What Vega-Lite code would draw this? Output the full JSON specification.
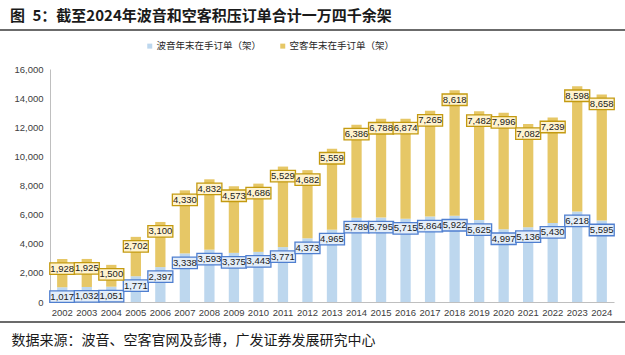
{
  "$schema": "https://vega.github.io/schema/vega-lite/v6.json",
  "width": 625,
  "height": 355,
  "autosize": {"type": "none"},
  "padding": 0,
  "background": "white",
  "config": {
    "view": {"stroke": null},
    "font": "Noto Sans CJK SC"
  },
  "title": {
    "text": "图\u20025：截至2024年波音和空客积压订单合计一万四千余架",
    "anchor": "start",
    "frame": "group",
    "orient": "top",
    "offset": 0,
    "dx": 10,
    "dy": 24,
    "fontSize": 15,
    "fontWeight": "bold",
    "font": "Noto Sans CJK SC",
    "color": "#1a1a1a"
  },
  "data": {
    "values": [
      {"year": "2002", "series": "波音年末在手订单（架）", "value": 1017},
      {"year": "2003", "series": "波音年末在手订单（架）", "value": 1032},
      {"year": "2004", "series": "波音年末在手订单（架）", "value": 1051},
      {"year": "2005", "series": "波音年末在手订单（架）", "value": 1771},
      {"year": "2006", "series": "波音年末在手订单（架）", "value": 2397},
      {"year": "2007", "series": "波音年末在手订单（架）", "value": 3338},
      {"year": "2008", "series": "波音年末在手订单（架）", "value": 3593},
      {"year": "2009", "series": "波音年末在手订单（架）", "value": 3375},
      {"year": "2010", "series": "波音年末在手订单（架）", "value": 3443},
      {"year": "2011", "series": "波音年末在手订单（架）", "value": 3771},
      {"year": "2012", "series": "波音年末在手订单（架）", "value": 4373},
      {"year": "2013", "series": "波音年末在手订单（架）", "value": 4965},
      {"year": "2014", "series": "波音年末在手订单（架）", "value": 5789},
      {"year": "2015", "series": "波音年末在手订单（架）", "value": 5795},
      {"year": "2016", "series": "波音年末在手订单（架）", "value": 5715},
      {"year": "2017", "series": "波音年末在手订单（架）", "value": 5864},
      {"year": "2018", "series": "波音年末在手订单（架）", "value": 5922},
      {"year": "2019", "series": "波音年末在手订单（架）", "value": 5625},
      {"year": "2020", "series": "波音年末在手订单（架）", "value": 4997},
      {"year": "2021", "series": "波音年末在手订单（架）", "value": 5136},
      {"year": "2022", "series": "波音年末在手订单（架）", "value": 5430},
      {"year": "2023", "series": "波音年末在手订单（架）", "value": 6218},
      {"year": "2024", "series": "波音年末在手订单（架）", "value": 5595},
      {"year": "2002", "series": "空客年末在手订单（架）", "value": 1928},
      {"year": "2003", "series": "空客年末在手订单（架）", "value": 1925},
      {"year": "2004", "series": "空客年末在手订单（架）", "value": 1500},
      {"year": "2005", "series": "空客年末在手订单（架）", "value": 2702},
      {"year": "2006", "series": "空客年末在手订单（架）", "value": 3100},
      {"year": "2007", "series": "空客年末在手订单（架）", "value": 4330},
      {"year": "2008", "series": "空客年末在手订单（架）", "value": 4832},
      {"year": "2009", "series": "空客年末在手订单（架）", "value": 4573},
      {"year": "2010", "series": "空客年末在手订单（架）", "value": 4686},
      {"year": "2011", "series": "空客年末在手订单（架）", "value": 5529},
      {"year": "2012", "series": "空客年末在手订单（架）", "value": 4682},
      {"year": "2013", "series": "空客年末在手订单（架）", "value": 5559},
      {"year": "2014", "series": "空客年末在手订单（架）", "value": 6386},
      {"year": "2015", "series": "空客年末在手订单（架）", "value": 6788},
      {"year": "2016", "series": "空客年末在手订单（架）", "value": 6874},
      {"year": "2017", "series": "空客年末在手订单（架）", "value": 7265},
      {"year": "2018", "series": "空客年末在手订单（架）", "value": 8618},
      {"year": "2019", "series": "空客年末在手订单（架）", "value": 7482},
      {"year": "2020", "series": "空客年末在手订单（架）", "value": 7996},
      {"year": "2021", "series": "空客年末在手订单（架）", "value": 7082},
      {"year": "2022", "series": "空客年末在手订单（架）", "value": 7239},
      {"year": "2023", "series": "空客年末在手订单（架）", "value": 8598},
      {"year": "2024", "series": "空客年末在手订单（架）", "value": 8658}
    ]
  },
  "transform": [
    {"stack": "value", "groupby": ["year"], "sort": [{"field": "series", "order": "ascending"}], "as": ["v0", "v1"]}
  ],
  "layer": [
    {
      "mark": {"type": "bar"},
      "encoding": {
        "x": {
          "field": "year",
          "type": "ordinal",
          "scale": {"range": [50, 614], "paddingInner": 0.58, "paddingOuter": 0.29},
          "axis": {
            "offset": -53,
            "labelAngle": 0,
            "labelFontSize": 9.5,
            "labelFont": "Liberation Sans",
            "labelColor": "#404040",
            "labelPadding": 5,
            "ticks": false,
            "domainColor": "#BFBFBF",
            "domainWidth": 1,
            "title": "数据来源：波音、空客官网及彭博，广发证券发展研究中心",
            "titleFont": "Noto Sans CJK SC",
            "titleFontSize": 14,
            "titleFontWeight": "normal",
            "titleColor": "#1a1a1a",
            "titleAnchor": "start",
            "titleAlign": "left",
            "titleBaseline": "middle",
            "titleX": 11,
            "titleY": 38
          }
        },
        "y": {
          "field": "v1",
          "type": "quantitative",
          "scale": {"domain": [0, 16000], "range": [302, 69], "nice": false, "zero": true},
          "axis": {
            "offset": -50,
            "values": [0, 2000, 4000, 6000, 8000, 10000, 12000, 14000, 16000],
            "labelExpr": "format(datum.value, ',')",
            "grid": false,
            "ticks": false,
            "labelFontSize": 9.5,
            "labelFont": "Liberation Sans",
            "labelColor": "#404040",
            "labelPadding": 7,
            "domainColor": "#BFBFBF",
            "title": null
          }
        },
        "y2": {"field": "v0"},
        "color": {
          "field": "series",
          "type": "nominal",
          "scale": {"domain": ["波音年末在手订单（架）", "空客年末在手订单（架）"], "range": ["#BDD7EE", "#E6C766"]},
          "legend": {
            "orient": "none",
            "direction": "horizontal",
            "legendX": 145,
            "legendY": 41,
            "title": null,
            "symbolType": "square",
            "symbolSize": 25,
            "labelFontSize": 9.5,
            "labelFont": "Noto Sans CJK SC",
            "labelColor": "#262626",
            "labelOffset": 2,
            "columnPadding": 16
          }
        }
      }
    },
    {
      "mark": {
        "type": "point",
        "shape": "M-1.25,0.375H1.25V1.525H-1.25Z",
        "size": 400,
        "filled": false,
        "strokeWidth": 1.3,
        "opacity": 1
      },
      "encoding": {
        "x": {"field": "year", "type": "ordinal"},
        "y": {"field": "v1", "type": "quantitative"},
        "fill": {
          "field": "series",
          "type": "nominal",
          "scale": {"domain": ["波音年末在手订单（架）", "空客年末在手订单（架）"], "range": ["#E4EEF9", "#FFF3CF"]},
          "legend": null
        },
        "stroke": {
          "field": "series",
          "type": "nominal",
          "scale": {"domain": ["波音年末在手订单（架）", "空客年末在手订单（架）"], "range": ["#4F7FD0", "#C49A10"]},
          "legend": null
        }
      }
    },
    {
      "mark": {"type": "text", "dy": 9.5, "fontSize": 9.5, "font": "Liberation Sans", "color": "#1a1a1a", "baseline": "middle"},
      "encoding": {
        "x": {"field": "year", "type": "ordinal"},
        "y": {"field": "v1", "type": "quantitative"},
        "text": {"field": "value", "type": "quantitative", "format": ","}
      }
    },
    {
      "data": {"values": [{}]},
      "mark": {"type": "rule", "color": "#3a3a3a", "strokeWidth": 1.5},
      "encoding": {"y": {"datum": 18680, "type": "quantitative"}}
    },
    {
      "data": {"values": [{}]},
      "mark": {"type": "rule", "color": "#3a3a3a", "strokeWidth": 1.5},
      "encoding": {"y": {"datum": -1374, "type": "quantitative"}}
    }
  ],
  "resolve": {"scale": {"fill": "independent", "stroke": "independent"}}
}
